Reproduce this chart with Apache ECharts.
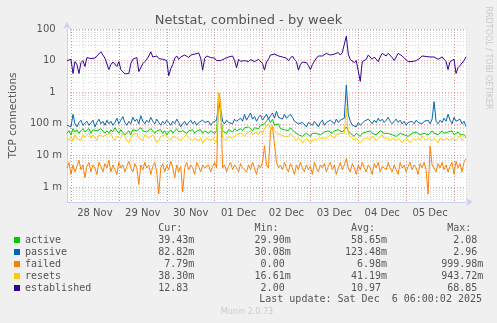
<!DOCTYPE html>
<html><head><meta charset="utf-8">
<script src="https://cdn.jsdelivr.net/npm/echarts@6/dist/echarts.min.js"></script>
<style>html,body{margin:0;padding:0;background:#f0f0f0}#c{width:497px;height:323px}</style>
</head><body><div id="c"></div>
<script>
const seriesNames = ['active','passive','failed','resets','established'];
const seriesColors = ['#00CC00','#0066B3','#FF8000','#FFCC00','#330099'];
const startTime = Date.UTC(2025,10,27,22,0,0);
const endTime = Date.UTC(2025,11,6,6,0,0);
const stepHours = 1;

const active = [
 0.05,0.06,0.045,0.07,0.055,0.065,0.05,0.06,0.07,0.055,
 0.06,0.07,0.05,0.065,0.075,0.06,0.055,0.07,0.065,0.05,
 0.06,0.05,0.065,0.055,0.075,0.06,0.05,0.065,0.06,0.045,
 0.05,0.06,0.045,0.065,0.07,0.06,0.055,0.075,0.06,0.065,
 0.055,0.06,0.07,0.065,0.05,0.06,0.055,0.065,0.05,0.06,
 0.045,0.055,0.065,0.05,0.06,0.07,0.055,0.05,0.06,0.055,
 0.05,0.06,0.055,0.065,0.05,0.06,0.055,0.065,0.05,0.06,
 0.055,0.05,0.06,0.055,0.05,0.06,0.9,0.2,0.06,0.055,
 0.05,0.065,0.06,0.055,0.07,0.06,0.065,0.07,0.06,0.075,
 0.065,0.08,0.07,0.06,0.075,0.085,0.07,0.09,0.08,0.1,
 0.12,0.15,0.11,0.14,0.09,0.08,0.1,0.07,0.08,0.065,
 0.07,0.06,0.075,0.065,0.055,0.05,0.045,0.05,0.04,0.045,
 0.05,0.045,0.04,0.05,0.045,0.05,0.055,0.045,0.05,0.055,
 0.05,0.06,0.055,0.05,0.06,0.055,0.065,0.06,0.055,0.065,
 0.08,0.06,0.05,0.045,0.04,0.05,0.045,0.04,0.05,0.045,
 0.055,0.05,0.06,0.05,0.055,0.045,0.05,0.06,0.055,0.05,
 0.045,0.05,0.055,0.045,0.05,0.04,0.045,0.05,0.055,0.045,
 0.05,0.04,0.045,0.05,0.045,0.055,0.05,0.045,0.04,0.05,
 0.055,0.045,0.05,0.06,0.05,0.055,0.045,0.05,0.06,0.05,
 0.045,0.055,0.05,0.06,0.045,0.05,0.055,0.045,0.05,0.045,
 0.039];
const passive = [
 0.09,0.1,0.08,0.2,0.1,0.08,0.11,0.13,0.09,0.1,
 0.12,0.09,0.1,0.13,0.08,0.11,0.14,0.1,0.12,0.09,
 0.13,0.1,0.12,0.09,0.11,0.15,0.1,0.13,0.17,0.11,
 0.09,0.12,0.1,0.16,0.12,0.14,0.1,0.18,0.12,0.1,
 0.13,0.11,0.16,0.12,0.1,0.14,0.11,0.09,0.12,0.1,
 0.13,0.11,0.09,0.12,0.1,0.14,0.11,0.08,0.1,0.12,
 0.09,0.11,0.13,0.1,0.12,0.09,0.11,0.1,0.13,0.11,
 0.1,0.12,0.09,0.11,0.1,0.13,0.45,0.3,0.12,0.1,
 0.13,0.11,0.12,0.1,0.14,0.12,0.11,0.15,0.12,0.2,
 0.13,0.15,0.22,0.14,0.17,0.12,0.16,0.19,0.13,0.15,
 0.2,0.14,0.18,0.22,0.15,0.25,0.16,0.18,0.14,0.2,
 0.15,0.13,0.2,0.16,0.12,0.11,0.1,0.09,0.11,0.1,
 0.08,0.11,0.1,0.09,0.12,0.1,0.08,0.11,0.13,0.09,
 0.11,0.1,0.13,0.12,0.1,0.14,0.11,0.13,0.12,0.15,
 1.7,0.2,0.12,0.09,0.1,0.08,0.11,0.09,0.1,0.12,
 0.11,0.14,0.12,0.1,0.13,0.11,0.15,0.12,0.14,0.11,
 0.13,0.16,0.12,0.1,0.12,0.14,0.11,0.13,0.1,0.12,
 0.09,0.11,0.1,0.12,0.1,0.13,0.11,0.12,0.1,0.12,
 0.11,0.13,0.1,0.14,0.5,0.12,0.1,0.13,0.11,0.15,
 0.12,0.2,0.13,0.1,0.16,0.12,0.11,0.14,0.1,0.12,
 0.083];
const failed = [
 0.004,0.006,0.0025,0.005,0.003,0.0045,0.007,0.0035,0.005,0.002,
 0.0045,0.006,0.003,0.005,0.004,0.0025,0.006,0.0045,0.003,0.0055,
 0.004,0.007,0.003,0.005,0.0035,0.0025,0.006,0.004,0.005,0.003,
 0.0045,0.0065,0.004,0.003,0.0055,0.004,0.0012,0.005,0.0035,0.006,
 0.004,0.005,0.0025,0.0045,0.006,0.003,0.0006,0.004,0.0055,0.003,
 0.005,0.0035,0.0065,0.004,0.002,0.005,0.003,0.0045,0.0007,0.004,
 0.006,0.0035,0.005,0.004,0.0025,0.006,0.0045,0.003,0.005,0.004,
 0.0035,0.005,0.003,0.0045,0.006,0.004,0.95,0.5,0.004,0.005,
 0.003,0.0045,0.006,0.0035,0.005,0.004,0.003,0.0055,0.004,0.0045,
 0.003,0.005,0.0035,0.006,0.004,0.0025,0.005,0.004,0.006,0.02,
 0.005,0.004,0.06,0.08,0.07,0.006,0.004,0.005,0.0035,0.006,
 0.004,0.003,0.0055,0.004,0.0025,0.005,0.0035,0.006,0.004,0.003,
 0.005,0.0035,0.0045,0.0025,0.006,0.004,0.003,0.005,0.004,0.0055,
 0.003,0.0045,0.006,0.0035,0.005,0.0025,0.004,0.006,0.0035,0.005,
 0.008,0.004,0.003,0.0055,0.004,0.0025,0.005,0.0035,0.006,0.004,
 0.003,0.005,0.004,0.0025,0.0055,0.004,0.006,0.003,0.0045,0.005,
 0.0035,0.006,0.004,0.003,0.005,0.0045,0.0025,0.006,0.004,0.005,
 0.003,0.0045,0.006,0.0035,0.005,0.004,0.0025,0.0055,0.004,0.006,
 0.0035,0.0006,0.02,0.005,0.004,0.003,0.0055,0.004,0.006,0.0035,
 0.005,0.003,0.0045,0.006,0.0025,0.0065,0.004,0.0055,0.003,0.006,
 0.0078];
const resets = [
 0.035,0.03,0.04,0.028,0.045,0.035,0.04,0.03,0.045,0.038,
 0.04,0.05,0.035,0.045,0.04,0.03,0.045,0.05,0.04,0.035,
 0.045,0.04,0.05,0.035,0.03,0.04,0.045,0.035,0.05,0.04,
 0.03,0.025,0.035,0.045,0.04,0.05,0.035,0.04,0.03,0.045,
 0.05,0.035,0.04,0.045,0.035,0.025,0.03,0.04,0.035,0.045,
 0.04,0.035,0.03,0.04,0.045,0.035,0.04,0.03,0.035,0.04,
 0.045,0.035,0.04,0.03,0.035,0.04,0.03,0.035,0.025,0.03,
 0.035,0.04,0.03,0.035,0.03,0.025,0.85,0.3,0.035,0.04,
 0.03,0.04,0.045,0.035,0.04,0.045,0.04,0.05,0.045,0.04,
 0.05,0.045,0.06,0.045,0.05,0.055,0.045,0.06,0.05,0.07,
 0.08,0.1,0.07,0.09,0.06,0.05,0.055,0.045,0.05,0.04,
 0.045,0.04,0.05,0.045,0.035,0.03,0.035,0.03,0.025,0.03,
 0.035,0.03,0.025,0.03,0.035,0.03,0.035,0.04,0.035,0.04,
 0.035,0.04,0.045,0.04,0.035,0.045,0.04,0.05,0.045,0.05,
 0.3,0.05,0.04,0.035,0.03,0.035,0.03,0.025,0.03,0.035,
 0.04,0.035,0.03,0.04,0.035,0.03,0.035,0.04,0.045,0.035,
 0.04,0.035,0.03,0.035,0.04,0.03,0.035,0.03,0.025,0.03,
 0.035,0.03,0.025,0.03,0.035,0.03,0.035,0.03,0.04,0.035,
 0.03,0.035,0.04,0.03,0.035,0.03,0.025,0.035,0.04,0.03,
 0.035,0.04,0.03,0.035,0.04,0.03,0.035,0.045,0.03,0.035,
 0.038];
const established = [
 10,10.5,11,3.9,9.3,7.5,3.9,8.6,10,6.5,
 12.4,14,11.6,12.5,12,14,16,19,15,12,
 11,5.2,7.5,9,9.3,6.5,9.3,5.2,4.5,3.8,
 3.3,3.9,8,11,10,12.5,4.5,4.5,8,9.3,
 11,14,19,13,15,14,11.6,12,11,12.5,
 10,3.3,5.5,7.5,12,14,11,13,14,15,
 14,12.5,15,17,16,15,17.5,12,5,11.6,
 14,13,12.5,14,12,10,10.5,10,11,11.5,
 12.5,13,14,14,10,6,11,9.5,8.6,10,
 11,9.3,10.8,10,9.3,10,11,11.6,8,5,
 9,11,15,14,16,18,14,12.5,13,14,
 12,10,12,14,11,9.3,5,7.5,9,10,
 8.6,7,5.2,7.5,8.6,12,14,12.5,14,15,
 17,18,15,15.5,16,17,18,15,18,20,
 59,16,10.8,9.5,8.6,10,10.8,2.2,9.3,10,
 11,15,13,11,13,14,9.3,13,17,15,
 14,17,15,12.5,10,9.3,17,15,14,12,
 11,9.3,9,9.3,9.5,10,11,12,14,13,
 13.5,12.5,13,14,13,12,11,12,13,11,
 9.3,5.2,9.3,10,11,3.9,6,7,7.5,10,
 13];
const seriesValues = [active, passive, failed, resets, established];

const yTickValues = [0.001,0.01,0.1,1,10,100];
const yTickLabels = ['1 m','10 m','100 m','1  ','10  ','100  '];
const statsCur = ['39.43m','82.82m','7.79m','38.30m','12.83 '];
const statsMin = ['29.90m','30.08m','0.00 ','16.61m','2.00 '];
const statsAvg = ['58.65m','123.48m','6.98m','41.19m','10.97 '];
const statsMax = ['2.08 ','2.96 ','999.98m','943.72m','68.85 '];
const lastUpdate = 'Last update: Sat Dec  6 06:00:02 2025';
const monthAbbr = ['Jan','Feb','Mar','Apr','May','Jun','Jul','Aug','Sep','Oct','Nov','Dec'];

const H = 3600000;
const yMin = Math.pow(10, -3.475), yMax = 100;
const sixHour = [], midnight = [], noon = [];
for (let t = Date.UTC(2025,10,28,0); t <= endTime; t += 6*H) {
  sixHour.push(t);
  const h = new Date(t).getUTCHours();
  if (h === 0) midnight.push(t);
  if (h === 12) noon.push(t);
}
const minorY = [];
for (let e = -4; e < 2; e++) for (let k = 2; k <= 9; k++) {
  const v = k * Math.pow(10, e);
  if (v > yMin && v < yMax) minorY.push(v);
}

const FONT = 'DejaVu Sans';
const MONO = 'DejaVu Sans Mono';
const CW = 6.02, X0 = 25.8;

const graphics = [];
const hdr = [['Cur:',22],['Min:',38],['Avg:',54],['Max:',70]];
hdr.forEach(([t,c]) => graphics.push({type:'text', x:X0+c*CW, y:228, style:{text:t, font:'10px '+MONO, fill:'#555', textVerticalAlign:'middle'}}));
for (let r = 0; r < 5; r++) {
  const s = statsCur[r].padStart(7) + ' '.repeat(9) + statsMin[r].padStart(7) + ' '.repeat(9) + statsAvg[r].padStart(7) + ' '.repeat(9) + statsMax[r].padStart(7);
  graphics.push({type:'text', x:X0+21*CW, y:240+12*r, style:{text:s, font:'10px '+MONO, fill:'#555', textVerticalAlign:'middle'}});
}
graphics.push({type:'text', x:482, y:299, style:{text:lastUpdate, font:'10px '+MONO, fill:'#555', textAlign:'right', textVerticalAlign:'middle'}});
graphics.push({type:'text', x:247, y:312, style:{text:'Munin 2.0.73', font:'8px '+FONT, fill:'#cccccc', textAlign:'center', textVerticalAlign:'middle'}});
graphics.push({type:'text', x:488, y:58, rotation:-Math.PI/2, style:{text:'RRDTOOL / TOBI OETIKER', font:'8px '+FONT, fill:'#c8c8c8', textAlign:'center', textVerticalAlign:'middle'}});

const chart = echarts.init(document.getElementById('c'), null, {renderer:'canvas'});
chart.setOption({
  animation:false,
  backgroundColor:'#f0f0f0',
  title:{text:'Netstat, combined - by week', left:'center', top:9, textStyle:{fontFamily:FONT, fontSize:13, fontWeight:'normal', color:'#555'}},
  grid:{left:66, right:31, top:29, bottom:121, show:true, backgroundColor:'#ffffff', borderWidth:0},
  legend:{data:seriesNames, orient:'vertical', left:14, top:234, padding:0, icon:'rect', itemWidth:6, itemHeight:6, itemGap:0,
    textStyle:{fontFamily:MONO, fontSize:10, color:'#555', lineHeight:12}, selectedMode:false},
  graphic:graphics,
  xAxis:[
    {type:'value', min:startTime, max:endTime, z:1,
     axisLine:{show:true, lineStyle:{color:'#c8d0f4', width:1}, symbol:['none','arrow'], symbolSize:[6,7], symbolOffset:[0,7]},
     axisTick:{show:false, customValues:midnight},
     axisLabel:{customValues:noon, color:'#555', fontFamily:FONT, fontSize:10, margin:6,
       formatter:v => { const d = new Date(v); return String(d.getUTCDate()).padStart(2,'0') + ' ' + monthAbbr[d.getUTCMonth()]; }},
     splitLine:{show:true, lineStyle:{color:'rgba(230,80,80,0.55)', type:[1,2], width:1}}},
    {type:'value', min:startTime, max:endTime, z:0, position:'bottom',
     axisLine:{show:false}, axisTick:{show:false, customValues:sixHour}, axisLabel:{show:false},
     splitLine:{show:true, lineStyle:{color:'#d6d6d6', type:[1,2], width:1}}}
  ],
  yAxis:[
    {type:'log', min:yMin, max:yMax, z:1,
     name:'TCP connections', nameLocation:'middle', nameGap:48, nameTextStyle:{fontFamily:FONT, fontSize:10.5, color:'#555'},
     axisLine:{show:true, lineStyle:{color:'#c8d0f4', width:1}, symbol:['none','arrow'], symbolSize:[6,7], symbolOffset:[0,7]},
     axisTick:{show:false, customValues:yTickValues},
     axisLabel:{customValues:yTickValues, color:'#555', fontFamily:FONT, fontSize:10, margin:5,
       formatter:v => { const i = yTickValues.findIndex(t => Math.abs(t - v) / t < 1e-6); return i >= 0 ? yTickLabels[i] : ''; }},
     splitLine:{show:true, lineStyle:{color:'rgba(230,80,80,0.55)', type:[1,2], width:1}}},
    {type:'log', min:yMin, max:yMax, z:0,
     axisLine:{show:false}, axisTick:{show:false, customValues:minorY}, axisLabel:{show:false},
     splitLine:{show:true, lineStyle:{color:'#d6d6d6', type:[1,2], width:1}}}
  ],
  series: seriesNames.map((n, si) => ({
    name:n, type:'line', xAxisIndex:0, yAxisIndex:0, showSymbol:false, symbol:'none',
    color:seriesColors[si], lineStyle:{width:1, color:seriesColors[si]}, itemStyle:{color:seriesColors[si]},
    z:2+si,
    data: seriesValues[si].map((v, i) => [startTime + i*stepHours*H, v])
  }))
});
</script></body></html>
